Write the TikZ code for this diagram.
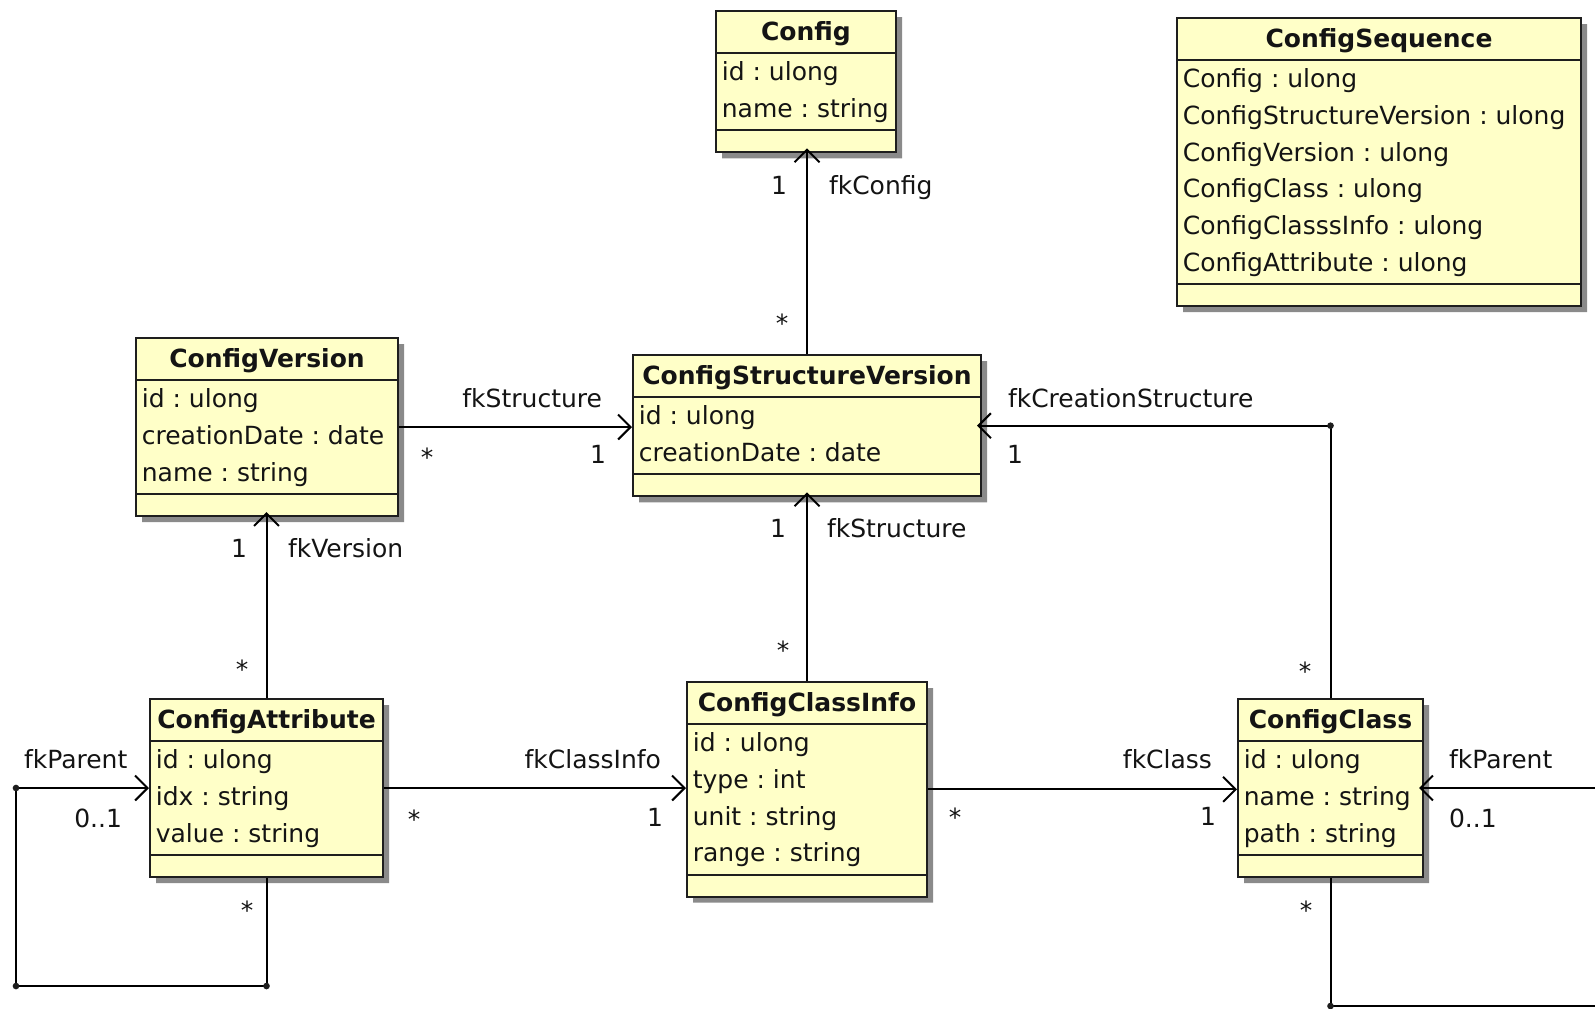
\documentclass[tikz,border=0pt]{standalone}
\usepackage{fontspec}
\setmainfont{DejaVu Sans}
\usetikzlibrary{shapes.multipart,shadows,arrows.meta}
\frenchspacing
\definecolor{FontColor}{HTML}{141414}
\definecolor{FillUml}{HTML}{FFFFC8}
\definecolor{LineUml}{HTML}{1E1E1E}
\definecolor{ShadowUml}{HTML}{8A8A8A}
\newcommand\hdr[1]{\rule[-6.6pt]{0pt}{22.8pt}\textbf{#1}}
\newcommand\attrs[1]{\begin{tabular}{@{}l@{}}#1\end{tabular}}
\newcommand\nops{\rule{0pt}{10.8pt}}
\newcommand\nodecfg{\hdr{Config}\nodepart{two}\attrs{id : ulong\\ name : string}\nodepart{three}\nops}
\newcommand\nodeseq{\hdr{ConfigSequence}\nodepart{two}\attrs{Config : ulong\\ ConfigStructureVersion : ulong\\ ConfigVersion : ulong\\ ConfigClass : ulong\\ ConfigClasssInfo : ulong\\ ConfigAttribute : ulong}\nodepart{three}\nops}
\newcommand\nodecv{\hdr{ConfigVersion}\nodepart{two}\attrs{id : ulong\\ creationDate : date\\ name : string}\nodepart{three}\nops}
\newcommand\nodecsv{\hdr{ConfigStructureVersion}\nodepart{two}\attrs{id : ulong\\ creationDate : date}\nodepart{three}\nops}
\newcommand\nodeca{\hdr{ConfigAttribute}\nodepart{two}\attrs{id : ulong\\ idx : string\\ value : string}\nodepart{three}\nops}
\newcommand\nodecci{\hdr{ConfigClassInfo}\nodepart{two}\attrs{id : ulong\\ type : int\\ unit : string\\ range : string}\nodepart{three}\nops}
\newcommand\nodecc{\hdr{ConfigClass}\nodepart{two}\attrs{id : ulong\\ name : string\\ path : string}\nodepart{three}\nops}
\tikzstyle{umlclass} = [rectangle split, rectangle split parts=3, rectangle split part align={center,left,left}, draw=LineUml, fill=FillUml, line width=1.2pt, inner xsep=3.5pt, inner ysep=0.6pt, anchor=north west, text=FontColor, drop shadow={shadow xshift=3.6pt, shadow yshift=-3.6pt, fill=ShadowUml, opacity=1}]
\tikzstyle{lbl} = [inner sep=0pt, anchor=base, text=FontColor]
\tikzstyle{bendpt} = [fill=LineUml]
\tikzset{>={Straight Barb[length=7.5pt,width=15pt]}, every picture/.style={line width=1.2pt}}

\begin{document}
\begin{tikzpicture}[x=0.6pt, y=-0.6pt, font=\fontsize{15pt}{22pt}\selectfont]
\clip (0,0) rectangle (1595,1008);
\node[umlclass, minimum width=108pt] (cfg) at (715,10) {\nodecfg};
\node[umlclass, minimum width=242.4pt] (seq) at (1176,17) {\nodeseq};
\node[umlclass, minimum width=157.2pt] (cv) at (135,337) {\nodecv};
\node[umlclass, minimum width=208.8pt] (csv) at (632,354) {\nodecsv};
\node[umlclass, minimum width=139.8pt] (ca) at (149,698) {\nodeca};
\node[umlclass, minimum width=144pt] (cci) at (686,681) {\nodecci};
\node[umlclass, minimum width=111pt] (cc) at (1237,698) {\nodecc};
\coordinate (crs) at (cc.north |- csv.east);
\coordinate (caloop) at (16,986);
\coordinate (ccloop) at (1620,1006);
\draw[->, shorten >=-3pt] (csv.north) -- (csv.north |- cfg.south);
\draw[->] (cv.east) -- (cv.east -| csv.west);
\draw[->, shorten >=-3pt] (cc.north) -- (crs) -- (csv.east);
\draw[->, shorten >=-3pt] (ca.north) -- (ca.north |- cv.south);
\draw[->, shorten >=-3pt] (cci.north) -- (cci.north |- csv.south);
\draw[->] (ca.east) -- (ca.east -| cci.west);
\draw[->] (cci.east) -- (cci.east -| cc.west);
\draw[->] (ca.south) |- (caloop) |- (ca.west);
\draw[->, shorten >=-3pt] (cc.south) |- (ccloop) |- (cc.east);
\fill[bendpt] (crs) circle (2pt);
\fill[bendpt] (caloop) circle (2pt);
\fill[bendpt] (caloop |- ca.west) circle (2pt);
\fill[bendpt] (ca.south |- caloop) circle (2pt);
\fill[bendpt] (cc.south |- ccloop) circle (2pt);
% fkConfig
\node[lbl] (m1) at (779,194) {1};
\node[lbl, anchor=base west] (m2) at (828,194) {fkConfig};
\node[lbl] (m3) at (782,332) {*};
% fkStructure (version)
\node[lbl, anchor=base east] (m4) at (603,407) {fkStructure};
\node[lbl] (m5) at (427,466) {*};
\node[lbl] (m6) at (598,463) {1};
% fkCreationStructure
\node[lbl, anchor=base west] (m7) at (1007,407) {fkCreationStructure};
\node[lbl] (m8) at (1015,463) {1};
\node[lbl] (m9) at (1305,680) {*};
% fkVersion
\node[lbl] (m10) at (239,557) {1};
\node[lbl, anchor=base west] (m11) at (287,557) {fkVersion};
\node[lbl] (m12) at (242,678) {*};
% fkStructure (class info)
\node[lbl] (m13) at (778,537) {1};
\node[lbl, anchor=base west] (m14) at (826,537) {fkStructure};
\node[lbl] (m15) at (783,659) {*};
% fkClassInfo
\node[lbl, anchor=base east] (m16) at (662,768) {fkClassInfo};
\node[lbl] (m17) at (414,828) {*};
\node[lbl] (m18) at (655,826) {1};
% fkClass
\node[lbl, anchor=base east] (m19) at (1213,768) {fkClass};
\node[lbl] (m20) at (955,826) {*};
\node[lbl] (m21) at (1208,825) {1};
% fkParent
\node[lbl, anchor=base west] (m22) at (23,768) {fkParent};
\node[lbl, anchor=base east] (m23) at (123,827) {0..1};
\node[lbl] (m24) at (247,919) {*};
\node[lbl, anchor=base west] (m25) at (1448,768) {fkParent};
\node[lbl, anchor=base west] (m26) at (1448,827) {0..1};
\node[lbl] (m27) at (1306,919) {*};
\end{tikzpicture}
\end{document}
